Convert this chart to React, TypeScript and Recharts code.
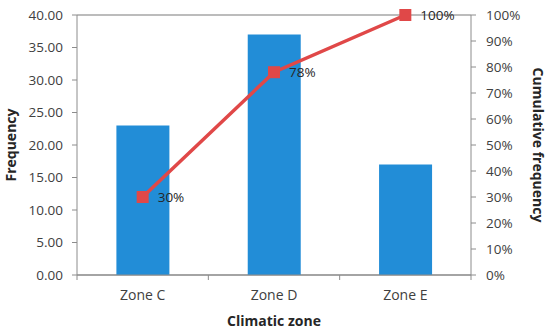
import { useEffect } from "react";
import {
  ComposedChart,
  Bar,
  Line,
  XAxis,
  YAxis,
  CartesianGrid,
  LabelList,
} from "recharts";

const zones = ["Zone C", "Zone D", "Zone E"];
const frequency = [23, 37, 17];
const cumulative = [0.3, 0.78, 1.0];
const leftTicks = [0, 5, 10, 15, 20, 25, 30, 35, 40];
const rightTicks = [0, 0.1, 0.2, 0.3, 0.4, 0.5, 0.6, 0.7, 0.8, 0.9, 1.0];

const data = zones.map((zone, i) => ({
  zone,
  frequency: frequency[i],
  cumulative: cumulative[i],
}));

const FONT = "'Open Sans', sans-serif";
const AXIS = "#8c8c8c";

function ZoneTick({ x, y, payload, index, bandWidth }: any) {
  const half = bandWidth / 2;
  return (
    <g>
      <line x1={x - half} y1={y - 8} x2={x - half} y2={y - 3} stroke={AXIS} />
      {index === zones.length - 1 && (
        <line x1={x + half} y1={y - 8} x2={x + half} y2={y - 3} stroke={AXIS} />
      )}
      <text x={x} y={y + 17} textAnchor="middle" fontSize={14} fill="#404040" fontFamily={FONT}>
        {payload.value}
      </text>
    </g>
  );
}

function SquareDot({ cx, cy }: any) {
  return <rect x={cx - 6} y={cy - 6} width={12} height={12} fill="#E04848" />;
}

export default function App() {
  useEffect(() => {
    document.body.style.margin = "0";
  }, []);

  const width = 550;
  const height = 330;
  const plotLeft = 77;
  const plotRight = 471;
  const bandWidth = (plotRight - plotLeft) / zones.length;

  return (
    <div style={{ width, height, background: "#fff" }}>
      <ComposedChart
        width={width}
        height={height}
        data={data}
        margin={{ top: 15, right: 19, bottom: 25, left: 17 }}
        barCategoryGap="30%"
      >
        <CartesianGrid vertical={false} stroke="#a6a6a6" strokeWidth={1.3} />
        <XAxis
          dataKey="zone"
          height={30}
          axisLine={{ stroke: AXIS }}
          tickLine={false}
          tick={<ZoneTick bandWidth={bandWidth} />}
          label={{
            value: "Climatic zone",
            position: "insideBottom",
            offset: -21,
            fontSize: 14,
            fontWeight: "bold",
            fill: "#262626",
            fontFamily: FONT,
          }}
        />
        <YAxis
          yAxisId="left"
          width={60}
          domain={[0, 40]}
          ticks={leftTicks}
          tickFormatter={(v: number) => v.toFixed(2)}
          axisLine={{ stroke: AXIS }}
          tickLine={{ stroke: AXIS }}
          tickSize={5}
          tickMargin={9}
          tick={{ fontSize: 13.5, fill: "#404040", fontFamily: FONT }}
          interval={0}
          label={{
            value: "Frequency",
            angle: -90,
            position: "insideLeft",
            offset: -6,
            style: { textAnchor: "middle" },
            fontSize: 14,
            fontWeight: "bold",
            fill: "#262626",
            fontFamily: FONT,
          }}
        />
        <YAxis
          yAxisId="right"
          orientation="right"
          width={60}
          domain={[0, 1]}
          ticks={rightTicks}
          tickFormatter={(v: number) => `${Math.round(v * 100)}%`}
          axisLine={{ stroke: AXIS }}
          tickLine={{ stroke: AXIS }}
          tickSize={5}
          tickMargin={10}
          tick={{ fontSize: 13.5, fill: "#404040", fontFamily: FONT }}
          interval={0}
          label={{
            value: "Cumulative frequency",
            angle: 90,
            position: "insideRight",
            offset: -7,
            style: { textAnchor: "middle" },
            fontSize: 14,
            fontWeight: "bold",
            fill: "#262626",
            fontFamily: FONT,
          }}
        />
        <Bar
          yAxisId="left"
          dataKey="frequency"
          fill="#228DD7"
          isAnimationActive={false}
        />
        <Line
          yAxisId="right"
          dataKey="cumulative"
          stroke="#E04848"
          strokeWidth={3.5}
          dot={<SquareDot />}
          activeDot={false}
          isAnimationActive={false}
        >
          <LabelList
            dataKey="cumulative"
            position="right"
            offset={15}
            formatter={(v: any) => `${Math.round(Number(v) * 100)}%`}
            style={{ fontSize: 13.5, fill: "#262626", fontFamily: FONT }}
          />
        </Line>
      </ComposedChart>
    </div>
  );
}
